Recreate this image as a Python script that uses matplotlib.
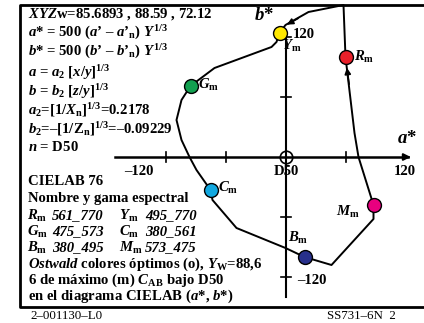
import matplotlib
matplotlib.use("Agg")
import matplotlib.pyplot as plt

plt.rcParams["font.family"] = ["Liberation Serif", "DejaVu Serif"]
plt.rcParams["font.weight"] = "bold"
plt.rcParams["mathtext.fontset"] = "custom"
plt.rcParams["mathtext.rm"] = "Liberation Serif:bold"
plt.rcParams["mathtext.it"] = "Liberation Serif:italic:bold"
plt.rcParams["mathtext.bf"] = "Liberation Serif:bold"

# Optimal colour points (CIELAB a*, b*)
hue_names = ["R", "Y", "G", "C", "B", "M"]
hue_a = [60, -6, -95, -75, 19, 88]
hue_b = [100, 124, 71, -33, -100, -48]
hue_colors = ["#e8202a", "#ffe800", "#12a050", "#12a8e0", "#28308c", "#e8007f"]

# spectral ranges of the six optimal colours
range_left = ["561_770", "475_573", "380_495"]    # R, G, B
range_right = ["495_770", "380_561", "573_475"]   # Y, C, M
names_left = ["R", "G", "B"]
names_right = ["Y", "C", "M"]

# gamut outline
gamut_a = [60, 58, 23, 0, -6, -9, -14, -71, -95, -104, -109, -104, -96, -89,
           -75, -73, -49, 0, 19, 46, 88, 88, 73, 69, 60]
gamut_b = [100, 152, 145, 132, 124, 115, 110, 89, 71, 57, 37, 17, 0, -13,
           -33, -43, -71, -91, -100, -108, -62, -48, 0, 24, 100]

axis_ticks = [-120, -60, 60, 120]

OX, OY = 285.5, 157.0


def px(x, y):
    return x - OX, OY - y


fig = plt.figure(figsize=(4.24, 3.23), dpi=100)
ax = fig.add_axes([0, 0, 1, 1])
ax.set_xlim(-OX, 424 - OX)
ax.set_ylim(OY - 323, OY)
ax.axis("off")

# frame
fl, ft = px(20, 5)
fr, fb = px(424, 307)
ax.plot([fr, fl, fl, fr], [ft, ft, fb, fb], color="black", lw=2, clip_on=False,
        solid_capstyle="butt")

# axes
ax.plot([px(115, 0)[0], 122], [0, 0], color="black", lw=1.8)
ax.annotate("", xy=(128, 0), xytext=(118, 0),
            arrowprops=dict(arrowstyle="-|>", color="black", lw=1.5, mutation_scale=10))
ax.plot([0, 0], [px(0, 297)[1], 122], color="black", lw=1.5)
for t in axis_ticks:
    if t < 120:
        ax.plot([t, t], [-5, 5], color="black", lw=1.2)
    ax.plot([-5, 5], [t, t], color="black", lw=1.2)
ax.plot([0], [0], "o", mfc="none", mec="black", ms=9, mew=1.2)

# gamut outline
ax.plot(gamut_a, gamut_b, color="black", lw=1.4)
ax.annotate("", xy=(hue_a[0] + 1, hue_b[0] - 8), xytext=(hue_a[0] + 4, hue_b[0] - 30),
            arrowprops=dict(arrowstyle="-|>", color="black", lw=1.2, mutation_scale=9))
ax.annotate("", xy=(hue_a[1] + 5, hue_b[1] + 7), xytext=(15, 140),
            arrowprops=dict(arrowstyle="-|>", color="black", lw=1.2, mutation_scale=9))

for a, b, c in zip(hue_a, hue_b, hue_colors):
    ax.plot([a], [b], "o", color=c, mec="black", mew=1.0, ms=10, zorder=5)

fs = 10.6
lab_off = {"R": (8, 0), "Y": (2, -13), "G": (8, 1),
           "C": (8, 2), "B": (-16, 19), "M": (-38, -7)}
for n, a, b in zip(hue_names, hue_a, hue_b):
    dx, dy = lab_off[n]
    ax.text(a + dx, b + dy, rf"${n}_\mathrm{{m}}$", fontsize=fs, ha="left", va="center")

# axis labels
ax.text(*px(264, 16), r"$b$*", fontsize=13.5, ha="center", va="center")
ax.text(*px(407, 139), r"$a$*", fontsize=13.5, ha="center", va="center")
ax.text(*px(139, 172), "–120", fontsize=fs, ha="center", va="center")
ax.text(*px(286, 172), "D50", fontsize=fs, ha="center", va="center")
ax.text(*px(405, 172), "120", fontsize=fs, ha="center", va="center")
ax.text(*px(304, 34), "120", fontsize=fs, ha="center", va="center")
ax.text(*px(312, 281), "–120", fontsize=fs, ha="center", va="center")

# text block
top_lines = [
    r"$\mathit{XYZ}$w=85.6893 , 88.59 , 72.12",
    r"$a$* = 500 ($a$’ – $a$’$_\mathrm{n}$) $Y^{1/3}$",
    r"$b$* = 500 ($b$’ – $b$’$_\mathrm{n}$) $Y^{1/3}$",
    r"$a$ = $a_2$ [$x/y$]$^{1/3}$",
    r"$b$ = $b_2$ [$z/y$]$^{1/3}$",
    r"$a_2$=[1/$X_\mathrm{n}$]$^{1/3}$=0.2178",
    r"$b_2$=–[1/Z$_\mathrm{n}$]$^{1/3}$=–0.09229",
    r"$n$ = D50",
]
top_y = [14, 33, 52, 73, 92, 110, 129, 147]
for s, y in zip(top_lines, top_y):
    ax.text(*px(28, y), s, fontsize=fs, ha="left", va="center")

bottom_lines = [
    "CIELAB 76",
    "Nombre y gama espectral",
    r"$Ostwald$ colores óptimos (o), $Y_\mathrm{W}$=88,6",
    r"6 de máximo (m) $C_\mathrm{AB}$ bajo D50",
    r"en el diagrama CIELAB ($a$*, $b$*)",
]
bottom_y = [182, 199, 264, 280, 296]
for s, y in zip(bottom_lines, bottom_y):
    ax.text(*px(28, y), s, fontsize=fs, ha="left", va="center")

range_y = [216, 232, 248]
for nl, rl, nr, rr, y in zip(names_left, range_left, names_right, range_right, range_y):
    ax.text(*px(27, y), rf"${nl}_\mathrm{{m}}$", fontsize=fs, ha="left", va="center")
    ax.text(*px(52, y), rl, fontsize=fs, style="italic", ha="left", va="center")
    ax.text(*px(119, y), rf"${nr}_\mathrm{{m}}$", fontsize=fs, ha="left", va="center")
    ax.text(*px(145, y), rr, fontsize=fs, style="italic", ha="left", va="center")

# footer
ax.text(*px(30, 316), "2–001130–L0", fontsize=9.3, fontweight="normal",
        ha="left", va="center")
ax.text(*px(327, 316), "SS731–6N  2", fontsize=9.3, fontweight="normal",
        ha="left", va="center")

fig.savefig("out.png", dpi=100)
